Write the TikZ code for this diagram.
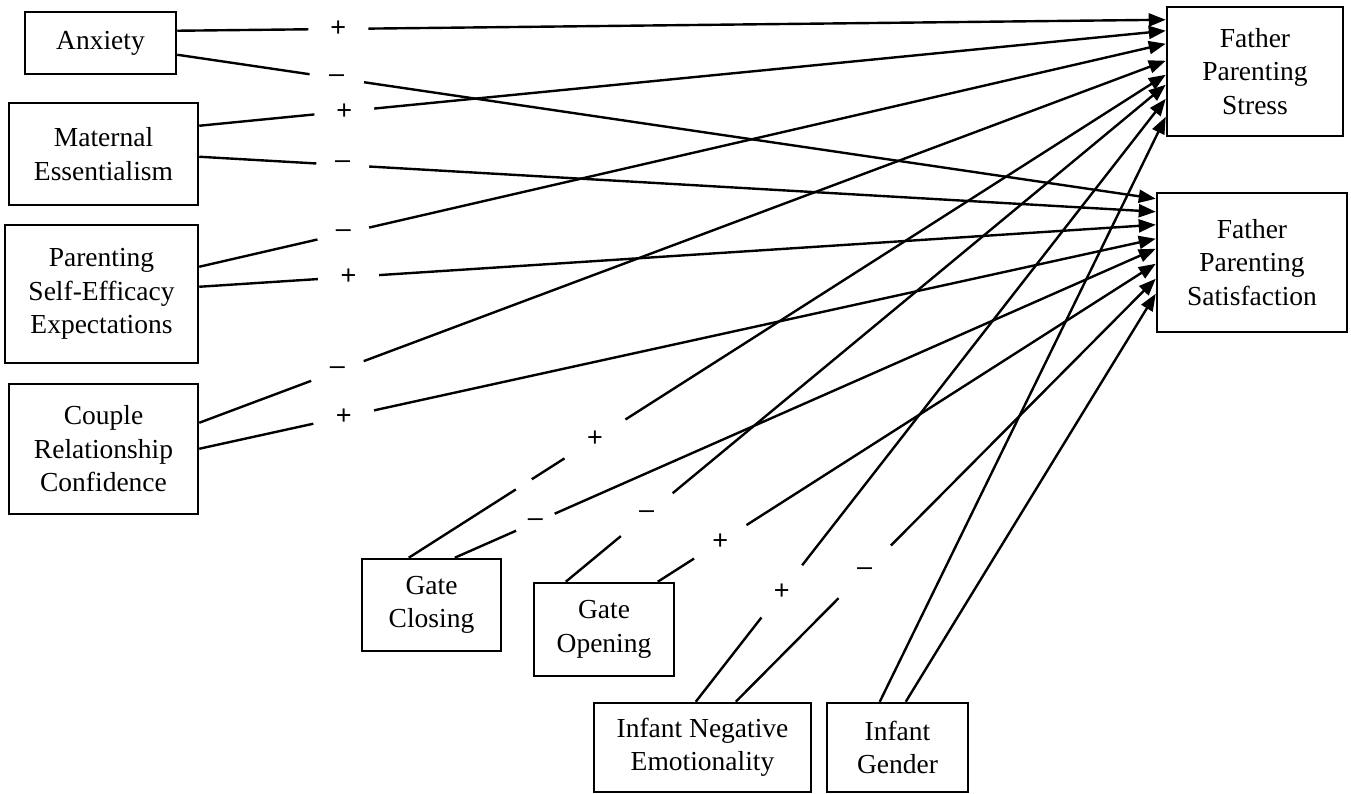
\documentclass[tikz,border=0pt]{standalone}
\usepackage{fontspec}
\setmainfont{Liberation Serif}
\newfontfamily\labelfont{Liberation Sans}
\usetikzlibrary{arrows.meta,calc}
\begin{document}
\begin{tikzpicture}[x=1pt,y=-1pt,
  box/.style={draw, line width=2.5pt, align=center, inner sep=0pt, font=\fontsize{27.5}{33.5}\selectfont},
  conn/.style={line width=2.4pt, -{Triangle[length=17pt,width=13pt]}},
  lab/.style={circle, fill=white, inner sep=0pt, minimum size=#1, font=\labelfont\fontsize{27}{27}\selectfont},
  gapmark/.style={circle, fill=white, inner sep=0pt, minimum size=#1}
]
\useasboundingbox (0,0) rectangle (1351,794);
% boxes
\node[box, minimum width=151pt, minimum height=62pt] (anx) at (100.5,43) {Anxiety};
\node[box, minimum width=189pt, minimum height=102pt] (mat) at (103.5,154) {Maternal\\Essentialism};
\node[box, minimum width=193pt, minimum height=138pt] (pse) at (101.5,294) {Parenting\\Self-Efficacy\\Expectations};
\node[box, minimum width=189pt, minimum height=130pt] (cpl) at (103.5,449) {Couple\\Relationship\\Confidence};
\node[box, minimum width=176pt, minimum height=129pt] (st) at (1255,71.5) {Father\\Parenting\\Stress};
\node[box, minimum width=190pt, minimum height=139pt] (sat) at (1252,262.5) {Father\\Parenting\\Satisfaction};
\node[box, minimum width=139pt, minimum height=92pt] (gc) at (431.5,605) {Gate\\Closing};
\node[box, minimum width=140pt, minimum height=93pt] (go) at (604,629.5) {Gate\\Opening};
\node[box, minimum width=217pt, minimum height=89pt] (ine) at (702.5,747.5) {Infant Negative\\Emotionality};
\node[box, minimum width=141pt, minimum height=89pt] (ig) at (897.5,747.5) {Infant\\Gender};
% connectors
\draw[conn] ($(anx.north east)+(0,20)$) -- node[lab=60,pos=0.163]{+} ($(st.north west)+(0,14)$);
\draw[conn] ($(anx.north east)+(0,44)$) -- node[lab=55,pos=0.163]{–} ($(sat.north west)+(0,7)$);
\draw[conn] ($(mat.north east)+(0,24)$) -- node[lab=60,pos=0.150]{+} ($(st.north west)+(0,25)$);
\draw[conn] ($(mat.north east)+(0,55)$) -- node[lab=53,pos=0.150]{–} ($(sat.north west)+(0,20)$);
\draw[conn] ($(pse.north east)+(0,43)$) -- node[lab=53,pos=0.149]{–} ($(st.north west)+(0,38)$);
\draw[conn] ($(pse.north east)+(0,63)$) -- node[lab=61,pos=0.156]{+} ($(sat.north west)+(0,33)$);
\draw[conn] ($(cpl.north east)+(0,40)$) -- node[lab=56,pos=0.143]{–} ($(st.north west)+(0,55)$);
\draw[conn] ($(cpl.north east)+(0,66)$) -- node[lab=62,pos=0.151]{+} ($(sat.north west)+(0,47)$);
\draw[conn] ($(gc.north west)+(48,0)$) -- node[gapmark=19,pos=0.152]{} node[lab=72,pos=0.246]{+} ($(st.north west)+(0,69)$);
\draw[conn] ($(gc.north west)+(94,0)$) -- node[lab=42,pos=0.115]{–} ($(sat.north west)+(0,57)$);
\draw[conn] ($(go.north west)+(33,0)$) -- node[lab=67,pos=0.135]{–} ($(st.north west)+(0,79)$);
\draw[conn] ($(go.north west)+(125,0)$) -- node[lab=62,pos=0.1255]{+} ($(sat.north west)+(0,72)$);
\draw[conn] ($(ine.north west)+(103,0)$) -- node[lab=66,pos=0.183]{+} ($(st.north west)+(0,93)$);
\draw[conn] ($(ine.north west)+(143,0)$) -- node[lab=74,pos=0.307]{–} ($(sat.north west)+(0,87)$);
\draw[conn] ($(ig.north west)+(54,0)$) -- ($(st.north west)+(0,111)$);
\draw[conn] ($(ig.north west)+(80,0)$) -- ($(sat.north west)+(0,102)$);
\end{tikzpicture}
\end{document}
